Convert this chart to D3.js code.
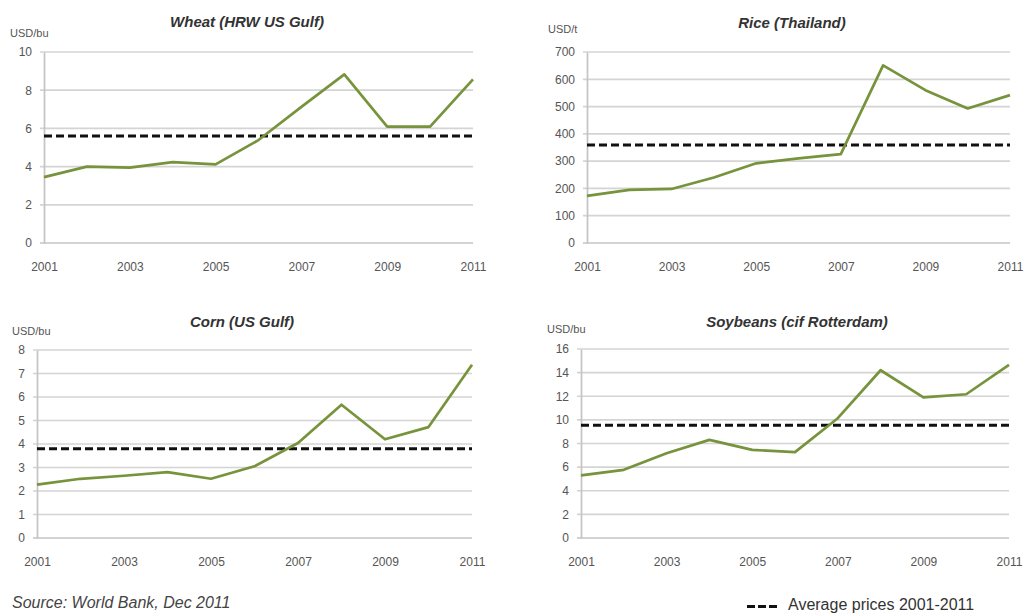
<!DOCTYPE html>
<html>
<head>
<meta charset="utf-8">
<script src="https://cdn.jsdelivr.net/npm/d3@7"></script>
<style>
  html, body { margin: 0; padding: 0; background: #ffffff; }
  svg { display: block; font-family: "Liberation Sans", Arial, sans-serif; }
</style>
</head>
<body>
<svg id="chart" width="1025" height="616"></svg>
<script>
// ---- data ----
const years = [2001, 2002, 2003, 2004, 2005, 2006, 2007, 2008, 2009, 2010, 2011];
const xTickYears = [2001, 2003, 2005, 2007, 2009, 2011];

const wheatPrices    = [3.45, 4.0, 3.95, 4.23, 4.12, 5.39, 7.13, 8.83, 6.09, 6.09, 8.57];
const ricePrices     = [173, 195, 198, 240, 292, 310, 326, 651, 560, 493, 542];
const cornPrices     = [2.27, 2.52, 2.65, 2.8, 2.52, 3.05, 4.04, 5.67, 4.2, 4.72, 7.37];
const soybeanPrices  = [5.3, 5.77, 7.18, 8.31, 7.46, 7.27, 10.14, 14.2, 11.9, 12.17, 14.65];

const averagePrices  = [5.6, 359, 3.8, 9.55];
const panelTitles    = ["Wheat (HRW US Gulf)", "Rice (Thailand)", "Corn (US Gulf)", "Soybeans (cif Rotterdam)"];
const unitLabels     = ["USD/bu", "USD/t", "USD/bu", "USD/bu"];
const yTickValues    = [
  [0, 2, 4, 6, 8, 10],
  [0, 100, 200, 300, 400, 500, 600, 700],
  [0, 1, 2, 3, 4, 5, 6, 7, 8],
  [0, 2, 4, 6, 8, 10, 12, 14, 16]
];
const seriesList = [wheatPrices, ricePrices, cornPrices, soybeanPrices];
const sourceText = "Source: World Bank, Dec 2011";
const legendText = "Average prices 2001-2011";

// ---- layout ----
const layouts = [
  { x0: 44,  x1: 473,  yTop: 52,  yBot: 243, titleX: 247, titleY: 27,  unitX: 10,  unitY: 37 },
  { x0: 587, x1: 1010, yTop: 52,  yBot: 243, titleX: 792, titleY: 28,  unitX: 548, unitY: 33 },
  { x0: 37,  x1: 472,  yTop: 350, yBot: 538, titleX: 242, titleY: 327, unitX: 12,  unitY: 335 },
  { x0: 581, x1: 1009, yTop: 349, yBot: 538, titleX: 797, titleY: 327, unitX: 547, unitY: 333 }
];

const svg = d3.select("#chart");
const lineColor = "#77933c";
const FONT = "'Liberation Sans', Arial, sans-serif";

layouts.forEach((L, i) => {
  const ticks = yTickValues[i];
  const x = d3.scaleLinear().domain([years[0], years[years.length - 1]]).range([L.x0, L.x1]);
  const y = d3.scaleLinear().domain([0, ticks[ticks.length - 1]]).range([L.yBot, L.yTop]);
  const g = svg.append("g");

  // gridlines
  g.append("g").selectAll("line").data(ticks).join("line")
    .attr("x1", L.x0 - 4).attr("x2", L.x1)
    .attr("y1", d => y(d)).attr("y2", d => y(d))
    .attr("stroke", d => d === 0 ? "#c4c4c4" : "#d4d4d4")
    .attr("stroke-width", 1.7);

  // left axis
  const yAxis = d3.axisLeft(y).tickValues(ticks).tickSize(0).tickPadding(12);
  const ya = g.append("g").attr("transform", `translate(${L.x0},0)`).call(yAxis);
  ya.select(".domain").attr("stroke", "#c4c4c4").attr("stroke-width", 1.7);
  ya.selectAll("text").attr("font-size", 12).attr("fill", "#555").attr("font-family", FONT);

  // bottom axis labels
  const xAxis = d3.axisBottom(x).tickValues(xTickYears).tickFormat(d3.format("d")).tickSize(0).tickPadding(19);
  const xa = g.append("g").attr("transform", `translate(0,${L.yBot})`).call(xAxis);
  xa.select(".domain").remove();
  xa.selectAll("text").attr("font-size", 12).attr("fill", "#555").attr("font-family", FONT);

  // average dashed line
  g.append("line")
    .attr("x1", L.x0).attr("x2", L.x1)
    .attr("y1", y(averagePrices[i])).attr("y2", y(averagePrices[i]))
    .attr("stroke", "#111").attr("stroke-width", 3)
    .attr("stroke-dasharray", "8,4");

  // price line
  const line = d3.line().x((d, j) => x(years[j])).y(d => y(d));
  g.append("path").datum(seriesList[i])
    .attr("d", line)
    .attr("fill", "none")
    .attr("stroke", lineColor)
    .attr("stroke-width", 2.7)
    .attr("stroke-linejoin", "round");

  // title
  g.append("text")
    .attr("x", L.titleX).attr("y", L.titleY)
    .attr("text-anchor", "middle")
    .attr("font-size", 15).attr("font-weight", "bold").attr("font-style", "italic")
    .attr("fill", "#333")
    .text(panelTitles[i]);

  // unit
  g.append("text")
    .attr("x", L.unitX).attr("y", L.unitY)
    .attr("font-size", 11).attr("fill", "#555")
    .text(unitLabels[i]);
});

// source
svg.append("text")
  .attr("x", 12).attr("y", 608)
  .attr("font-size", 16).attr("font-style", "italic").attr("fill", "#444")
  .text(sourceText);

// legend
svg.append("line")
  .attr("x1", 747).attr("x2", 777).attr("y1", 606.5).attr("y2", 606.5)
  .attr("stroke", "#111").attr("stroke-width", 3).attr("stroke-dasharray", "8,3");
svg.append("text")
  .attr("x", 788).attr("y", 610)
  .attr("font-size", 16).attr("fill", "#333")
  .text(legendText);
</script>
</body>
</html>
